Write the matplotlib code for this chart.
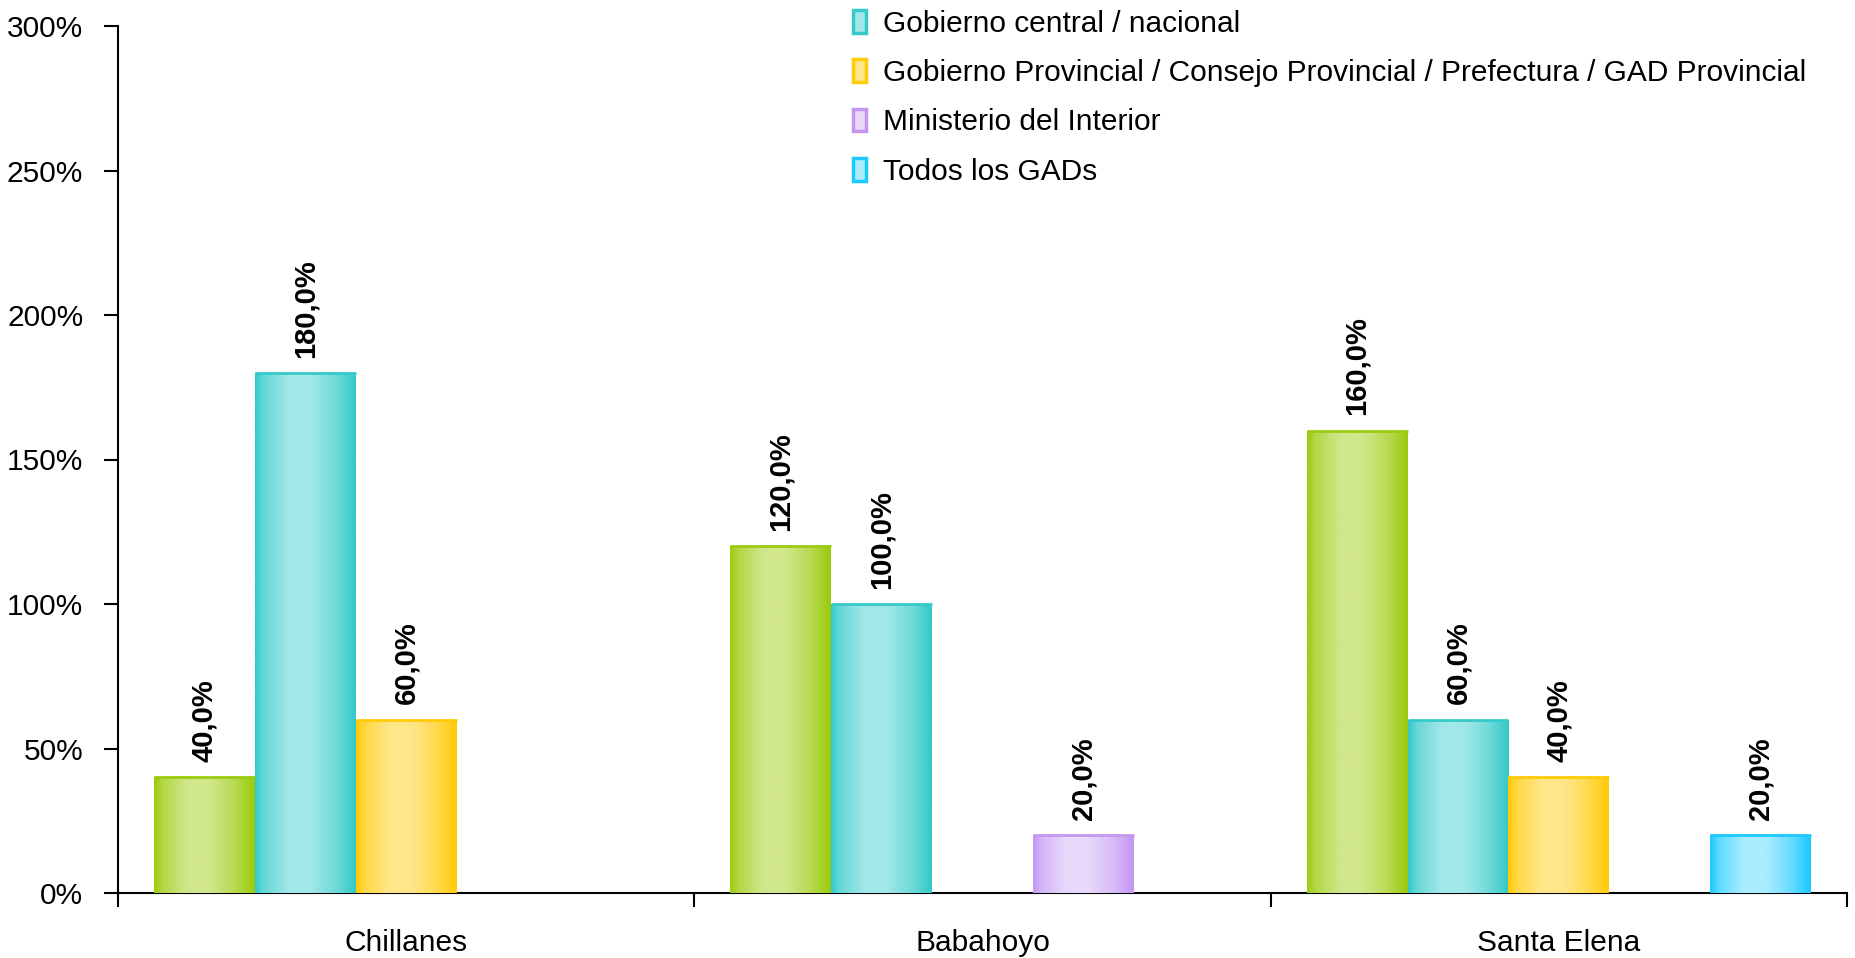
import numpy as np
import matplotlib
matplotlib.use("Agg")
import matplotlib.pyplot as plt
from matplotlib.patches import Patch
from matplotlib.colors import to_rgb

plt.rcParams['font.family'] = ['Liberation Sans', 'DejaVu Sans']

categories = ["Chillanes", "Babahoyo", "Santa Elena"]
series_names = [None,
                "Gobierno central / nacional",
                "Gobierno Provincial / Consejo Provincial / Prefectura / GAD Provincial",
                "Ministerio del Interior",
                "Todos los GADs"]
s_green = [40.0, 120.0, 160.0]
s_central = [180.0, 100.0, 60.0]
s_provincial = [60.0, np.nan, 40.0]
s_ministerio = [np.nan, 20.0, np.nan]
s_todos = [np.nan, np.nan, 20.0]
values = [s_green, s_central, s_provincial, s_ministerio, s_todos]
yticks = [0, 50, 100, 150, 200, 250, 300]

dark = ["#9BCB0E", "#36C9C9", "#FFCA08", "#C496F2", "#1CC9FF"]
light = ["#D1E78C", "#A2E8E8", "#FFE68A", "#E8D9FB", "#ABEDFF"]

fig = plt.figure(figsize=(18.55, 9.58), dpi=100)
ax = fig.add_axes([118/1855, 1-893/958, (1847-118)/1855, (893-26)/958])

n = len(values)
bw = 0.175
x = np.arange(len(categories))

pos = np.array([0, 0.08, 0.33, 0.55, 0.8, 1.0])
wts = np.array([0, 0.45, 1.0, 1.0, 0.55, 0.0])
t = np.linspace(0, 1, 64)
mix = np.interp(t, pos, wts)

for i, vals in enumerate(values):
    off = (i - (n - 1) / 2) * bw
    vv = np.array(vals, dtype=float)
    bars = ax.bar(x + off, np.nan_to_num(vv), bw, color=dark[i], edgecolor='none', zorder=2)
    d = np.array(to_rgb(dark[i])); l = np.array(to_rgb(light[i]))
    grad = (d[None, :] * (1 - mix[:, None]) + l[None, :] * mix[:, None])[None, :, :]
    for b, v in zip(bars, vv):
        if np.isnan(v):
            b.set_visible(False)
            continue
        bx, bwid, bh = b.get_x(), b.get_width(), b.get_height()
        im = ax.imshow(grad, extent=[bx, bx + bwid, 0, bh], aspect='auto', zorder=3,
                       interpolation='bilinear')
        im.set_clip_path(b)
        ax.plot([bx, bx + bwid], [bh, bh], color=dark[i], lw=2, zorder=4, solid_capstyle='butt')
        ax.annotate(f"{v:.1f}%".replace('.', ','), (bx + bwid / 2, bh),
                    xytext=(0, 11), textcoords='offset points', rotation=90,
                    ha='center', va='bottom', fontsize=21, fontweight='bold', zorder=5)

ax.set_xlim(-0.5, len(categories) - 0.5)
ax.set_ylim(0, 300)
ax.set_yticks(yticks)
ax.set_yticklabels([f"{v}%" for v in yticks])
ax.set_xticks(x)
ax.set_xticklabels(categories)
ax.set_xticks(np.arange(len(categories) + 1) - 0.5, minor=True)
ax.tick_params(axis='x', which='major', length=0, pad=26, labelsize=21.5)
ax.tick_params(axis='x', which='minor', length=10, width=1.5, direction='out')
ax.tick_params(axis='y', length=10, width=1.5, direction='out', pad=15, labelsize=21.5)
for s in ['top', 'right']:
    ax.spines[s].set_visible(False)
for s in ['left', 'bottom']:
    ax.spines[s].set_linewidth(1.5)

handles = [Patch(facecolor=light[i], edgecolor=dark[i], linewidth=2.5)
           for i in range(1, n)]
labels = series_names[1:]
fig.legend(handles, labels, loc='upper left', bbox_to_anchor=(853/1855, 1 - 10/958),
           bbox_transform=fig.transFigure, frameon=False, fontsize=21.5,
           handlelength=0.42, handleheight=0.8, handletextpad=0.6,
           labelspacing=0.71, borderpad=0, borderaxespad=0)

fig.savefig("out.png", dpi=100)
